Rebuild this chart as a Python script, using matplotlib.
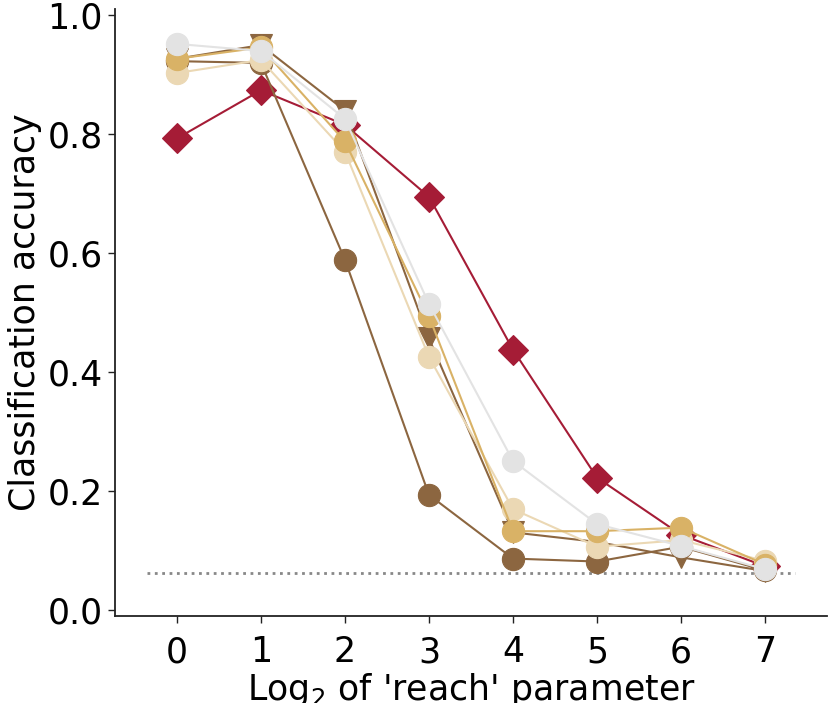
import matplotlib
matplotlib.use("Agg")
import matplotlib.pyplot as plt

# Data
log2_reach = [0, 1, 2, 3, 4, 5, 6, 7]
chance_level = 1 / 16

acc_red_diamond = [0.792, 0.873, 0.815, 0.694, 0.437, 0.222, 0.126, 0.073]
acc_brown_circle = [0.922, 0.919, 0.588, 0.193, 0.086, 0.081, 0.106, 0.066]
acc_brown_triangle = [0.926, 0.949, 0.839, 0.456, 0.130, 0.114, 0.088, 0.065]
acc_tan_circle = [0.902, 0.924, 0.770, 0.425, 0.169, 0.106, 0.117, 0.082]
acc_gold_circle = [0.926, 0.945, 0.787, 0.493, 0.132, 0.132, 0.138, 0.076]
acc_grey_circle = [0.951, 0.939, 0.825, 0.514, 0.250, 0.144, 0.107, 0.068]

series = [
    (acc_red_diamond, "#A51C36", "D", 15.5),
    (acc_brown_circle, "#8C6640", "o", 16),
    (acc_brown_triangle, "#8C6640", "v", 16),
    (acc_tan_circle, "#EBD8B4", "o", 16),
    (acc_gold_circle, "#D9B266", "o", 16),
    (acc_grey_circle, "#E3E3E3", "o", 16),
]

fig = plt.figure(figsize=(8.30, 7.03), dpi=100)
ax = fig.add_axes([0.1382, 0.1242, 0.9967 - 0.1382, 0.9875 - 0.1242])

ax.plot([-0.36, 7.36], [chance_level, chance_level], linestyle=":",
        color="#888888", linewidth=2, zorder=1)

for i, (vals, col, mk, ms) in enumerate(series):
    ax.plot(log2_reach, vals, color=col, marker=mk, markersize=ms,
            markeredgecolor=col, markeredgewidth=0.8, linewidth=1.5,
            zorder=2 + i)

ax.set_xlim(-0.74, 7.74)
ax.set_ylim(-0.01, 1.01)
ax.set_xticks(log2_reach)
ax.set_yticks([0.0, 0.2, 0.4, 0.6, 0.8, 1.0])
ax.set_yticklabels(["0.0", "0.2", "0.4", "0.6", "0.8", "1.0"])

for s in ["top", "right"]:
    ax.spines[s].set_visible(False)
for s in ["left", "bottom"]:
    ax.spines[s].set_linewidth(1.3)
    ax.spines[s].set_color("#222222")

ax.tick_params(axis="both", labelsize=25, length=5, width=1, color="#222222")
ax.tick_params(axis="x", pad=9)
ax.set_xlabel("Log$_2$ of 'reach' parameter", fontsize=25, labelpad=1)
ax.set_ylabel("Classification accuracy", fontsize=25, labelpad=4)

fig.savefig("out.png", dpi=100)
